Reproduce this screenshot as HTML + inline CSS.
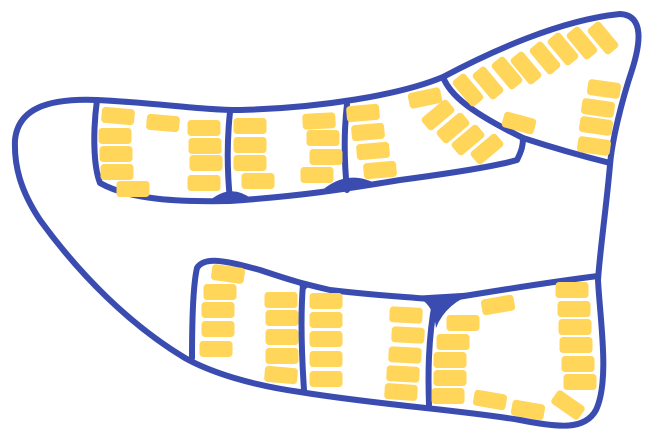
<!DOCTYPE html>
<html><head><meta charset="utf-8"><style>
html,body{margin:0;padding:0;background:#fff;}
svg{display:block;}
</style></head><body>
<svg width="654" height="443" viewBox="0 0 654 443">
<g fill="none" stroke="#3a4cb0" stroke-width="6" stroke-linejoin="round" stroke-linecap="round">
<path d="M97,100 C160,103 200,110 240,110 C320,108 400,95 443,77 C490,52 560,20 620,14 C645,15 640,45 632,70 C622,100 612,140 610,165 C606,210 600,250 598,280 C600,320 610,380 596,410 C585,430 560,428 520,420 C460,410 380,405 300,392 C250,385 210,372 185,358 C130,325 80,275 40,220 C20,190 14,165 15,140 C18,110 45,98 97,100 Z"/>
<path d="M97,100 C93,130 93,165 100,183 C130,200 180,202 230,201 C300,196 340,190 400,180 C460,172 500,165 517,160 C522,150 523,145 523,138"/>
<path d="M230,112 C227,140 227,170 230,200"/>
<path d="M347,104 C344,130 344,160 347,190"/>
<path d="M443,77 C450,95 470,112 523,138 C560,150 590,158 610,163"/>
<path d="M192,358 C192,320 193,285 197,268 C205,255 230,262 260,270 C290,280 300,283 330,290 C380,296 410,297 440,300 C500,290 550,282 598,276"/>
<path d="M303,284 C300,320 302,360 304,390"/>
<path d="M435,302 C428,340 428,375 429,405"/>
</g>
<g fill="#3a4cb0">
<path d="M208,202 Q230,182 252,199 Z"/>
<path d="M318,194 Q347,166 380,186 Z"/>
<path d="M412,296 Q433,300 436,328 Q446,302 478,292 Z"/>
<path d="M288,282 Q303,282 303,296 Q305,283 320,287 Z"/>
</g>
<g id="tiles" fill="#ffd55a"></g>
</svg>
<script>
const tiles=[
[118,116,5],[115,136,0],[116,154,0],[117,172,0],[133,189,0],[163,123,5],
[204,128,0],[205,146,0],[206,163,0],[204,183,0],
[250,126,0],[250,145,0],[250,163,0],[258,181,0],
[319,121,-3],[323,138,0],[326,157,0],[317,175,0],
[363,113,-5],[368,132,-5],[373,151,-5],[380,170,-5],
[425,98,-12],[438,115,-40],[453,128,-40],[468,140,-40],[487,149,-40],[519,123,15],
[468,90,50],[488,83,50],[507,73,50],[526,68,50],[545,58,50],[563,49,50],[582,43,50],[603,38,50],
[604,89,8],[598,108,8],[596,126,8],[594,146,8],
[228,274,8],[220,292,0],[218,310,0],[218,329,0],[216,349,0],
[281,300,0],[282,318,0],[282,337,0],[282,356,0],[281,375,5],
[326,301,0],[326,320,0],[326,339,0],[326,359,0],[326,379,0],
[406,315,3],[408,335,3],[405,355,3],[403,374,3],[401,392,4],
[463,323,0],[453,342,0],[450,360,0],[450,378,0],[448,396,0],[498,305,-10],
[572,290,0],[574,309,0],[575,327,0],[576,345,0],[578,364,0],[580,382,0],
[568,405,35],[490,400,10],[528,410,10]
];
const g=document.getElementById('tiles');
tiles.forEach((t,i)=>{
const r=document.createElementNS('http://www.w3.org/2000/svg','rect');
r.setAttribute('x',t[0]-16.5);r.setAttribute('y',t[1]-8);
r.setAttribute('width',33);r.setAttribute('height',16);r.setAttribute('rx',3.5);
r.setAttribute('transform','rotate('+t[2]+' '+t[0]+' '+t[1]+')');


g.appendChild(r);
});
</script>
</body></html>
